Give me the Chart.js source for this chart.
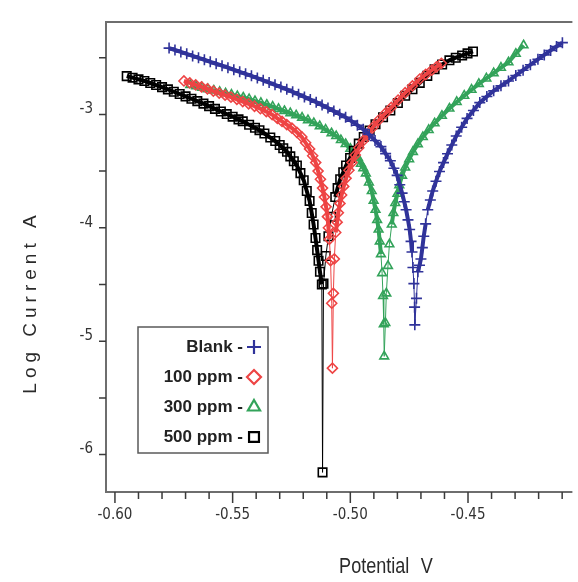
<!doctype html>
<html>

<head>
    <title>Tafel plot</title>
    <script src="https://cdn.jsdelivr.net/npm/chart.js"></script>
    <style>
        body {
            margin: 0;
            background: #fff;
            overflow: hidden;
        }

        canvas {
            display: block;
        }
    </style>
</head>

<body>
    <canvas id="tafel" width="578" height="582"></canvas>

    <script>
        // potential (V) and log current for each bath, cathodic branch first then anodic
        var blankV = [
            -0.5770, -0.5745, -0.5720, -0.5695, -0.5670, -0.5645, -0.5620, -0.5595, -0.5570, -0.5545,
            -0.5520, -0.5495, -0.5470, -0.5445, -0.5420, -0.5395, -0.5370, -0.5345, -0.5320, -0.5295,
            -0.5270, -0.5245, -0.5220, -0.5195, -0.5170, -0.5145, -0.5120, -0.5095, -0.5070, -0.5045,
            -0.5020, -0.4995, -0.4970, -0.4945, -0.4920, -0.4895, -0.4870, -0.4850, -0.4830, -0.4815,
            -0.4801, -0.4790, -0.4780, -0.4771, -0.4763, -0.4755, -0.4748, -0.4742, -0.4738, -0.4734,
            -0.4730, -0.4727, -0.4726,
            -0.4719, -0.4713, -0.4706, -0.4700, -0.4694, -0.4688, -0.4680, -0.4671, -0.4660, -0.4650,
            -0.4636, -0.4621, -0.4604, -0.4587, -0.4569, -0.4550, -0.4527, -0.4504, -0.4477, -0.4450,
            -0.4420, -0.4391, -0.4360, -0.4328, -0.4297, -0.4266, -0.4235, -0.4203, -0.4176, -0.4149,
            -0.4124, -0.4099
        ];
        var blankLogI = [
            -2.415, -2.432, -2.449, -2.466, -2.484, -2.501, -2.518, -2.536, -2.553, -2.570,
            -2.588, -2.606, -2.624, -2.642, -2.660, -2.679, -2.699, -2.719, -2.739, -2.759,
            -2.779, -2.801, -2.823, -2.846, -2.869, -2.892, -2.918, -2.944, -2.971, -2.998,
            -3.026, -3.059, -3.095, -3.131, -3.177, -3.230, -3.284, -3.346, -3.408, -3.475,
            -3.538, -3.620, -3.694, -3.770, -3.841, -3.930, -4.015, -4.120, -4.214, -4.350,
            -4.492, -4.700, -4.856,
            -4.622, -4.388, -4.330, -4.275, -4.175, -4.075, -3.965, -3.841, -3.755, -3.676,
            -3.590, -3.503, -3.425, -3.347, -3.270, -3.191, -3.113, -3.035, -2.965, -2.896,
            -2.842, -2.792, -2.748, -2.705, -2.657, -2.610, -2.562, -2.514, -2.475, -2.436,
            -2.401, -2.367
        ];

        var ppm100V = [
            -0.5707, -0.5682, -0.5657, -0.5632, -0.5607, -0.5582, -0.5557, -0.5532, -0.5507, -0.5482,
            -0.5457, -0.5432, -0.5407, -0.5382, -0.5357, -0.5332, -0.5310, -0.5290, -0.5270, -0.5248,
            -0.5227, -0.5206, -0.5190, -0.5173, -0.5160, -0.5147, -0.5137, -0.5127, -0.5118, -0.5110,
            -0.5103, -0.5097, -0.5093, -0.5089, -0.5084, -0.5079, -0.5076,
            -0.5072, -0.5068, -0.5062, -0.5056, -0.5051, -0.5044, -0.5037, -0.5028, -0.5018, -0.5006,
            -0.4993, -0.4979, -0.4964, -0.4945, -0.4926, -0.4903, -0.4880, -0.4853, -0.4826, -0.4797,
            -0.4767, -0.4736, -0.4705, -0.4680, -0.4654, -0.4634, -0.4613
        ];
        var ppm100LogI = [
            -2.705, -2.722, -2.739, -2.757, -2.775, -2.794, -2.812, -2.830, -2.848, -2.867,
            -2.887, -2.907, -2.928, -2.950, -2.975, -3.002, -3.035, -3.062, -3.090, -3.121,
            -3.158, -3.199, -3.250, -3.304, -3.365, -3.425, -3.500, -3.572, -3.650, -3.729,
            -3.815, -3.902, -4.000, -4.101, -4.290, -4.665, -5.238,
            -4.578, -4.275, -4.041, -3.950, -3.867, -3.785, -3.711, -3.635, -3.564, -3.492,
            -3.425, -3.358, -3.295, -3.232, -3.173, -3.111, -3.052, -2.994, -2.939, -2.873,
            -2.809, -2.748, -2.688, -2.648, -2.610, -2.580, -2.549
        ];

        var ppm300V = [
            -0.5680, -0.5655, -0.5630, -0.5605, -0.5580, -0.5555, -0.5530, -0.5505, -0.5480, -0.5455,
            -0.5430, -0.5405, -0.5380, -0.5355, -0.5330, -0.5305, -0.5280, -0.5255, -0.5230, -0.5205,
            -0.5180, -0.5155, -0.5130, -0.5105, -0.5080, -0.5060, -0.5040, -0.5020, -0.5000, -0.4985,
            -0.4968, -0.4955, -0.4945, -0.4934, -0.4921, -0.4909, -0.4901, -0.4893, -0.4886, -0.4880,
            -0.4875, -0.4870, -0.4865, -0.4861, -0.4858, -0.4856,
            -0.4851, -0.4847, -0.4840, -0.4834, -0.4824, -0.4817, -0.4809, -0.4800, -0.4792, -0.4780,
            -0.4767, -0.4750, -0.4734, -0.4713, -0.4692, -0.4667, -0.4642, -0.4611, -0.4579, -0.4548,
            -0.4516, -0.4485, -0.4454, -0.4422, -0.4391, -0.4360, -0.4328, -0.4297, -0.4264
        ];
        var ppm300LogI = [
            -2.740, -2.752, -2.764, -2.777, -2.789, -2.801, -2.814, -2.826, -2.839, -2.851,
            -2.865, -2.882, -2.898, -2.915, -2.932, -2.951, -2.970, -2.989, -3.008, -3.028,
            -3.050, -3.076, -3.103, -3.135, -3.166, -3.191, -3.226, -3.261, -3.303, -3.340,
            -3.382, -3.435, -3.475, -3.520, -3.600, -3.676, -3.760, -3.841, -3.930, -4.015,
            -4.120, -4.232, -4.400, -4.600, -4.850, -5.134,
            -4.839, -4.578, -4.336, -4.145, -3.971, -3.870, -3.781, -3.700, -3.624, -3.540,
            -3.468, -3.395, -3.330, -3.262, -3.199, -3.137, -3.078, -3.012, -2.948, -2.890,
            -2.835, -2.782, -2.731, -2.683, -2.636, -2.588, -2.540, -2.465, -2.390
        ];

        var ppm500V = [
            -0.5950, -0.5925, -0.5900, -0.5875, -0.5850, -0.5825, -0.5800, -0.5775, -0.5750, -0.5725,
            -0.5700, -0.5675, -0.5650, -0.5624, -0.5600, -0.5575, -0.5550, -0.5525, -0.5500, -0.5475,
            -0.5457, -0.5430, -0.5405, -0.5386, -0.5365, -0.5340, -0.5319, -0.5300, -0.5285, -0.5269,
            -0.5255, -0.5240, -0.5227, -0.5212, -0.5198, -0.5185, -0.5173, -0.5164, -0.5156, -0.5148,
            -0.5141, -0.5135, -0.5129, -0.5121, -0.5118,
            -0.5114, -0.5104, -0.5093, -0.5081, -0.5064, -0.5054, -0.5043, -0.5030, -0.5018, -0.5001,
            -0.4985, -0.4964, -0.4943, -0.4918, -0.4893, -0.4861, -0.4830, -0.4798, -0.4767, -0.4736,
            -0.4705, -0.4673, -0.4642, -0.4610, -0.4579, -0.4552, -0.4525, -0.4502, -0.4479
        ];
        var ppm500LogI = [
            -2.662, -2.676, -2.691, -2.705, -2.723, -2.741, -2.759, -2.779, -2.800, -2.820,
            -2.841, -2.862, -2.883, -2.905, -2.927, -2.951, -2.974, -2.997, -3.020, -3.044,
            -3.061, -3.091, -3.118, -3.139, -3.168, -3.204, -3.234, -3.270, -3.299, -3.330,
            -3.370, -3.413, -3.451, -3.518, -3.581, -3.675, -3.763, -3.870, -3.971, -4.090,
            -4.197, -4.290, -4.388, -4.500, -6.157,
            -4.492, -4.249, -4.075, -3.902, -3.729, -3.650, -3.572, -3.510, -3.451, -3.385,
            -3.321, -3.258, -3.199, -3.142, -3.087, -3.025, -2.965, -2.900, -2.835, -2.778,
            -2.722, -2.660, -2.601, -2.560, -2.523, -2.500, -2.480, -2.462, -2.445
        ];

        var xTicks = [-0.60, -0.55, -0.50, -0.45];
        var yTicks = [-6, -5, -4, -3];

        function pares(vs, is) {
            return vs.map(function (v, i) { return { x: v, y: is[i] }; });
        }

        var tickFont = { family: "'Liberation Sans Narrow', 'DejaVu Sans Condensed', 'Liberation Sans', sans-serif", size: 15 };

        // moldura (topo, esquerda, base) e marcas de escala
        var moldura = {
            id: 'moldura',
            beforeDatasetsDraw: function (chart) {
                var ctx = chart.ctx, a = chart.chartArea, x = chart.scales.x, y = chart.scales.y;
                ctx.save();
                ctx.strokeStyle = '#6e6e6e';
                ctx.lineWidth = 2;
                ctx.beginPath();
                ctx.moveTo(a.right + 2, a.top);
                ctx.lineTo(a.left, a.top);
                ctx.lineTo(a.left, a.bottom);
                ctx.lineTo(a.right + 2, a.bottom);
                ctx.stroke();

                ctx.strokeStyle = '#3a3a3a';
                ctx.lineWidth = 1.5;
                ctx.beginPath();
                for (var i = 0; i <= 20; i++) {
                    var v = -0.60 + i * 0.01;
                    if (v > x.max) break;
                    var px = x.getPixelForValue(v);
                    ctx.moveTo(px, a.bottom);
                    ctx.lineTo(px, a.bottom + (i % 5 === 0 ? 11 : 7));
                }
                for (var j = 0; j <= 7; j++) {
                    var py = y.getPixelForValue(-6 + j * 0.5);
                    ctx.moveTo(a.left - 7, py);
                    ctx.lineTo(a.left, py);
                }
                ctx.stroke();
                ctx.restore();
            }
        };

        // títulos dos eixos e legenda em caixa
        var textos = {
            id: 'textos',
            afterDraw: function (chart) {
                var ctx = chart.ctx;
                ctx.save();
                ctx.fillStyle = '#2a2a2a';
                ctx.textAlign = 'center';
                ctx.textBaseline = 'middle';

                ctx.save();
                ctx.translate(31, 304);
                ctx.rotate(-Math.PI / 2);
                ctx.font = "19px 'Liberation Sans', Arial, sans-serif";
                ctx.letterSpacing = '5px';
                ctx.fillText('Log Current A', 2, 0);
                ctx.restore();

                ctx.save();
                ctx.translate(386, 567);
                ctx.scale(0.82, 1);
                ctx.font = "22px 'Liberation Sans', Arial, sans-serif";
                ctx.wordSpacing = '8px';
                ctx.fillText('Potential V', 0, 0);
                ctx.restore();

                ctx.strokeStyle = '#5a5a5a';
                ctx.lineWidth = 1.5;
                ctx.strokeRect(138, 327, 130, 126);

                ctx.font = "bold 17px 'Liberation Sans', Arial, sans-serif";
                ctx.textAlign = 'right';
                chart.data.datasets.forEach(function (ds, i) {
                    var yy = 347 + i * 30;
                    ctx.fillStyle = '#222';
                    ctx.fillText(ds.label + ' -', 243, yy);
                    ctx.strokeStyle = ds.pointBorderColor;
                    ctx.fillStyle = 'rgba(0,0,0,0)';
                    ctx.lineWidth = 2.2;
                    Chart.helpers.drawPoint(ctx, {
                        pointStyle: ds.pointStyle, radius: 7, borderWidth: 2.2, rotation: 0
                    }, 254, yy);
                });
                ctx.restore();
            }
        };

        // segmentos curtos (região de Tafel, pontos muito juntos) ficam como faixa grossa
        function larguraSegmento(c) {
            var dx = c.p1.x - c.p0.x, dy = c.p1.y - c.p0.y;
            return Math.sqrt(dx * dx + dy * dy) < 14 ? 4 : 1;
        }

        function serie(label, data, cor, estilo, raio, ordem) {
            return {
                label: label,
                data: data,
                showLine: true,
                borderColor: cor,
                borderWidth: 1,
                segment: { borderWidth: larguraSegmento },
                pointStyle: estilo,
                pointRadius: raio,
                pointBorderWidth: 1.6,
                pointBorderColor: cor,
                pointBackgroundColor: 'rgba(255,255,255,0)',
                order: ordem
            };
        }

        var grafico = new Chart(document.getElementById('tafel'), {
            type: 'scatter',
            data: {
                datasets: [
                    serie('Blank', pares(blankV, blankLogI), '#30339a', 'cross', 5.5, 0),
                    serie('100 ppm', pares(ppm100V, ppm100LogI), '#ee4444', 'rectRot', 5, 1),
                    serie('300 ppm', pares(ppm300V, ppm300LogI), '#33a35a', 'triangle', 5, 3),
                    serie('500 ppm', pares(ppm500V, ppm500LogI), '#000000', 'rect', 6, 2)
                ]
            },
            options: {
                responsive: false,
                animation: false,
                devicePixelRatio: 1,
                layout: { padding: { top: 14, left: 0, right: 0, bottom: 0 } },
                plugins: {
                    legend: { display: false },
                    tooltip: { enabled: false }
                },
                scales: {
                    x: {
                        type: 'linear',
                        min: -0.6038,
                        max: -0.4065,
                        grid: { display: false, drawTicks: false },
                        border: { display: false },
                        afterBuildTicks: function (s) { s.ticks = xTicks.map(function (v) { return { value: v }; }); },
                        afterFit: function (s) { s.height = 90; },
                        ticks: {
                            font: tickFont,
                            color: '#333',
                            padding: 14,
                            maxRotation: 0,
                            callback: function (v) { return v.toFixed(2); }
                        }
                    },
                    y: {
                        type: 'linear',
                        min: -6.33,
                        max: -2.185,
                        grid: { display: false, drawTicks: false },
                        border: { display: false },
                        afterBuildTicks: function (s) { s.ticks = yTicks.map(function (v) { return { value: v }; }); },
                        afterFit: function (s) { s.width = 106; },
                        ticks: {
                            font: tickFont,
                            color: '#333',
                            padding: 13,
                            labelOffset: -5,
                            callback: function (v) { return v.toFixed(0); }
                        }
                    }
                }
            },
            plugins: [moldura, textos]
        });
    </script>
</body>

</html>
